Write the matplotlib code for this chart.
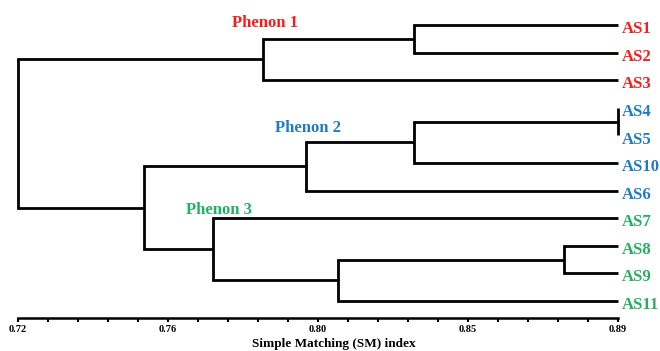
import matplotlib
matplotlib.use("Agg")
import matplotlib.pyplot as plt
import numpy as np

# ---- data ----
leaves = ["AS1", "AS2", "AS3", "AS4", "AS5", "AS10", "AS6", "AS7", "AS8", "AS9", "AS11"]
leaf_groups = [1, 1, 1, 2, 2, 2, 2, 3, 3, 3, 3]
group_colors = {1: "#FF1A1A", 2: "#1F7AC8", 3: "#25B060"}
# merges: (child_a, child_b, similarity); children are leaf names or merge index (int)
merges = [
    ("AS1", "AS2", 0.8321),   # 0
    (0, "AS3", 0.7895),       # 1  Phenon 1
    ("AS4", "AS5", 0.89),     # 2
    (2, "AS10", 0.8321),      # 3
    (3, "AS6", 0.8017),       # 4  Phenon 2
    ("AS8", "AS9", 0.8747),   # 5
    (5, "AS11", 0.8108),      # 6
    ("AS7", 6, 0.7753),       # 7  Phenon 3
    (4, 7, 0.7558),           # 8
    (1, 8, 0.72),             # 9  root
]
leaf_similarity = 0.89
tick_values = np.linspace(0.72, 0.89, 5)
tick_labels = ["0.72", "0.76", "0.80", "0.85", "0.89"]
phenon_names = ["Phenon 1", "Phenon 2", "Phenon 3"]

# ---- figure ----
plt.rcParams["font.family"] = ["Liberation Serif", "DejaVu Serif"]
fig = plt.figure(figsize=(6.6, 3.51), dpi=100)
ax = fig.add_axes([18 / 660, 1 - 318 / 351, 600 / 660, 318 / 351])

ypos = {name: i for i, name in enumerate(leaves)}
node_pos = {}
lw = 2.0


def get(c):
    if isinstance(c, int):
        return node_pos[c]
    return (leaf_similarity, ypos[c])


for idx, (a, b, h) in enumerate(merges):
    xa, ya = get(a)
    xb, yb = get(b)
    ax.plot([xa, h, h, xb], [ya, ya, yb, yb], color="black", lw=lw,
            solid_joinstyle="miter", solid_capstyle="butt", clip_on=False)
    node_pos[idx] = (h, (ya + yb) / 2)

# leaf labels
for name, g in zip(leaves, leaf_groups):
    ax.annotate(name, xy=(leaf_similarity, ypos[name]), xytext=(3, -3),
                textcoords="offset points", ha="left", va="center",
                color=group_colors[g], fontsize=12, fontweight="bold",
                annotation_clip=False)

# phenon labels
phenon_xy = [(0.7901, -0.08), (0.8023, 3.73), (0.7770, 6.70)]
for (px, py), name, g in zip(phenon_xy, phenon_names, [1, 2, 3]):
    ax.text(px, py, name, ha="center", va="center", color=group_colors[g],
            fontsize=12, fontweight="bold")

ax.set_xlim(0.72, 0.89)
ax.set_ylim(10.62, -0.905)
for s in ["left", "right", "top"]:
    ax.spines[s].set_visible(False)
ax.spines["bottom"].set_linewidth(1.8)
ax.set_yticks([])
ax.set_xticks(tick_values)
ax.set_xticklabels(tick_labels, fontsize=7.5, fontweight="bold")
ax.set_xticks(np.linspace(0.72, 0.89, 21), minor=True)
ax.tick_params(axis="x", which="both", direction="out", length=3, width=1.5, pad=2)
ax.patch.set_alpha(0)

fig.text(334 / 660, 1 - 344 / 351, "Simple Matching (SM) index", ha="center",
         va="center", fontsize=9.5, fontweight="bold")

fig.savefig("out.png", dpi=100)
